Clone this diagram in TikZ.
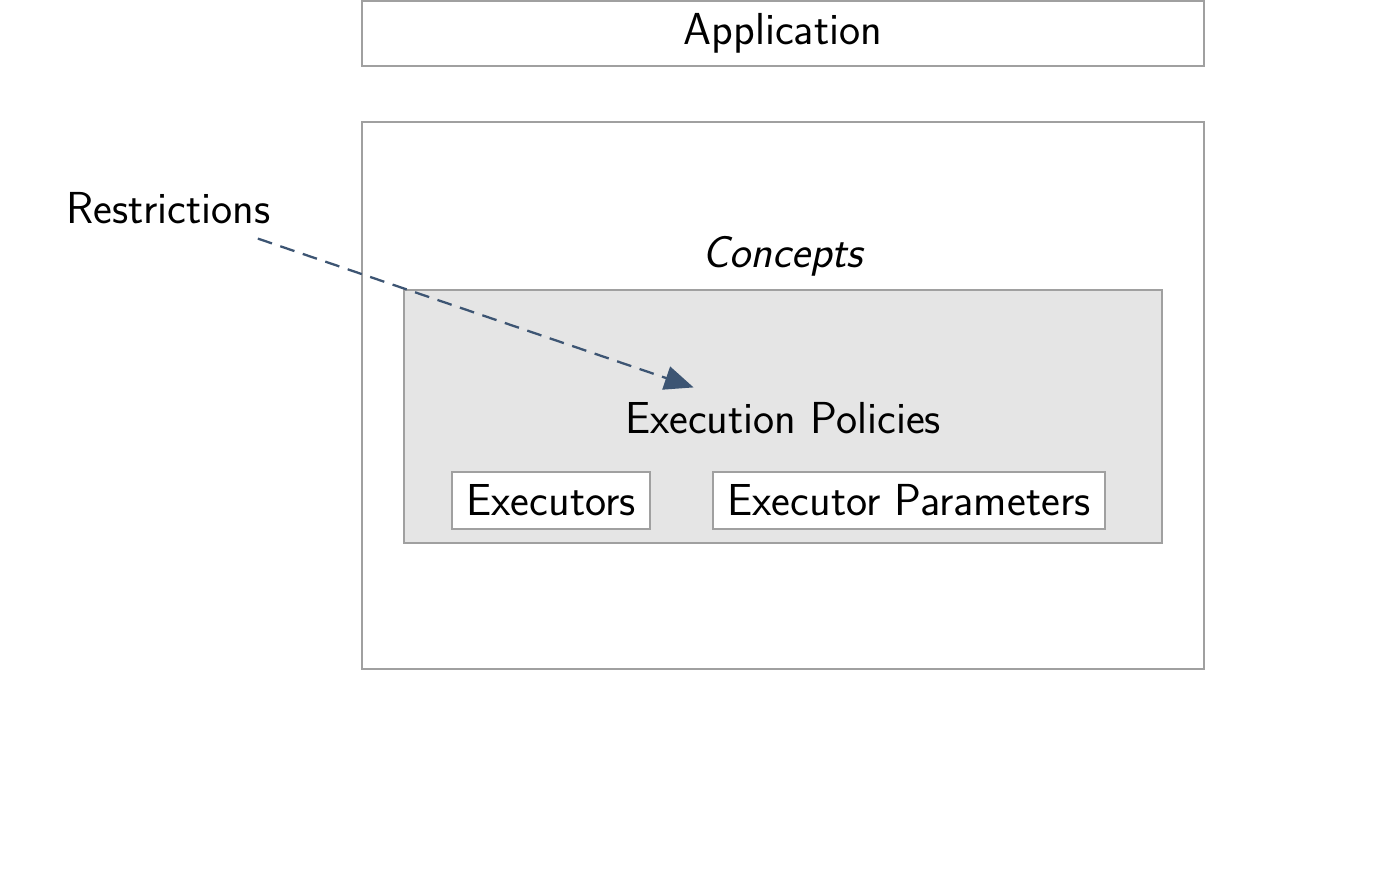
\documentclass[tikz,border=0pt]{standalone}
\usetikzlibrary{positioning,arrows.meta}
\definecolor{framegray}{HTML}{A0A0A0}
\definecolor{fillgray}{HTML}{E5E5E5}
\definecolor{arrowblue}{HTML}{3D5573}
\tikzstyle{frame} = [rectangle, draw=framegray, line width=1.1pt, inner sep=0pt]
\tikzstyle{block} = [frame, fill=white, minimum height=1.14cm]
\tikzstyle{caption} = [inner sep=0.29cm]
\tikzstyle{line} = [draw=arrowblue, line width=1.3pt, dash pattern=on 8.5pt off 5pt,
    -{Triangle[length=0.58cm,width=0.48cm]}, arrowblue]

\begin{document}
\begin{tikzpicture}[node distance=1.08cm, font=\sffamily\fontsize{25.5}{30}\selectfont]
	\useasboundingbox (0,0) rectangle (28,-17.8);

	\node [frame, minimum width=16.84cm, minimum height=1.3cm] (app) at (15.66,-0.67) {Application};
	\node [frame, minimum width=16.84cm, minimum height=10.94cm, below=of app] (outer) {};

	\node [caption] (concepts) at (15.66,-5.12) {\itshape Concepts};
	\node [frame, fill=fillgray, minimum width=15.16cm, minimum height=5.06cm] (policybox) at (15.66,-8.33) {};
	\node [caption] (policies) at (15.66,-8.36) {Execution Policies};

	\node [block, minimum width=3.96cm] (executors) at (11.02,-10.01) {Executors};
	\node [block, minimum width=7.84cm, right=1.22cm of executors] (params) {Executor Parameters};

	\node [caption] (restrictions) at (3.37,-4.16) {Restrictions};

	\path [line] (restrictions) -- (policies);
\end{tikzpicture}
\end{document}
